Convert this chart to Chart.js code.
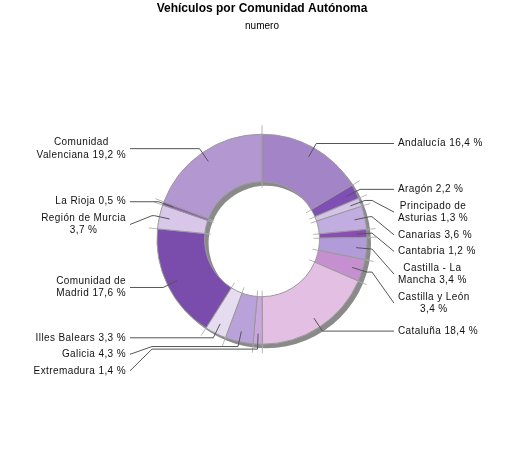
<!DOCTYPE html>
<html>
<head>
<meta charset="utf-8">
<script src="https://cdn.jsdelivr.net/npm/chart.js@4.4.1/dist/chart.umd.min.js"></script>
<style>
  html, body { margin: 0; padding: 0; background: #fff; }
  canvas { display: block; }
</style>
</head>
<body>
<canvas id="chart" width="525" height="450"></canvas>
<script>
// Datos: porcentaje de vehículos por comunidad (orden horario desde arriba)
const comunidades = [
    'Andalucía', 'Aragón', 'Principado de Asturias', 'Canarias', 'Cantabria',
    'Castilla - La Mancha', 'Castilla y León', 'Cataluña', 'Extremadura', 'Galicia',
    'Illes Balears', 'Comunidad de Madrid', 'Región de Murcia', 'La Rioja', 'Comunidad Valenciana'
];
const porcentajes = [16.4, 2.2, 1.3, 3.6, 1.2, 3.4, 3.4, 18.4, 1.4, 4.3, 3.3, 17.6, 3.7, 0.5, 19.2];
const colores = [
    '#a385c7', '#7f4fb5', '#d3c3e6', '#c2ade0', '#8a4db5',
    '#b19bd8', '#c690d0', '#e3bfe3', '#c9a7dd', '#b9a1d9',
    '#e6dcf0', '#7a4cab', '#d8c7e8', '#8e5cb9', '#b397d0'
];

const FONT = '"Liberation Sans", Arial, sans-serif';

function formatoValor(v) {
    return v.toFixed(1).replace('.', ',') + ' %';
}

// Partir la etiqueta en líneas (el valor va siempre junto)
function partir(ctx, nombre, valor, maxAncho) {
    const palabras = nombre.split(' ').concat([formatoValor(valor)]);
    const lineas = [];
    let actual = '';
    palabras.forEach(p => {
        const prueba = actual ? actual + ' ' + p : p;
        if (actual && ctx.measureText(prueba).width > maxAncho) {
            lineas.push(actual);
            actual = p;
        } else {
            actual = prueba;
        }
    });
    if (actual) lineas.push(actual);
    return lineas;
}

// Sombra gris desplazada y guías radiales
const sombra = {
    id: 'sombra',
    beforeDatasetsDraw(chart) {
        const arcs = chart.getDatasetMeta(0).data;
        if (!arcs.length) return;
        const { x, y, innerRadius, outerRadius } = arcs[0];
        const ctx = chart.ctx;
        ctx.save();
        ctx.fillStyle = '#8a8a8a';
        ctx.beginPath();
        ctx.arc(x + 4, y + 4, outerRadius, 0, Math.PI * 2);
        ctx.arc(x + 4, y + 4, innerRadius, 0, Math.PI * 2, true);
        ctx.fill();
        ctx.strokeStyle = 'rgba(175,175,175,0.9)';
        ctx.lineWidth = 1;
        arcs.forEach(a => {
            const c = Math.cos(a.startAngle), s = Math.sin(a.startAngle);
            ctx.beginPath();
            ctx.moveTo(x + c * (innerRadius - 6), y + s * (innerRadius - 6));
            ctx.lineTo(x + c * (outerRadius + 9), y + s * (outerRadius + 9));
            ctx.stroke();
        });
        ctx.restore();
    }
};

// Etiquetas con líneas guía
const etiquetas = {
    id: 'etiquetas',
    afterDatasetsDraw(chart) {
        const ctx = chart.ctx;
        const arcs = chart.getDatasetMeta(0).data;
        const altoLinea = 12.5;
        const hueco = 4;
        ctx.save();
        ctx.font = '10px ' + FONT;
        ctx.letterSpacing = '0.4px';
        const items = arcs.map((a, i) => {
            const mid = (a.startAngle + a.endAngle) / 2;
            const c = Math.cos(mid), s = Math.sin(mid);
            const R = a.outerRadius;
            const lineas = partir(ctx, comunidades[i], porcentajes[i], 97);
            return {
                lineas,
                h: lineas.length * altoLinea,
                derecha: c >= 0,
                ax: a.x + c * R * 0.9, ay: a.y + s * R * 0.9,
                ex: a.x + c * (R + 5), ey: a.y + s * (R + 5),
                cx: a.x, R
            };
        });

        [true, false].forEach(lado => {
            const grupo = items.filter(it => it.derecha === lado).sort((p, q) => p.ey - q.ey);
            let fondo = -Infinity;
            grupo.forEach(it => {
                it.y = Math.max(it.ey, fondo + hueco + it.h / 2);
                fondo = it.y + it.h / 2;
            });
        });

        ctx.strokeStyle = '#555';
        ctx.lineWidth = 1;
        ctx.fillStyle = '#111';
        ctx.textBaseline = 'middle';
        ctx.textAlign = 'center';
        items.forEach(it => {
            const sg = it.derecha ? 1 : -1;
            const colX = it.cx + sg * (it.R + 5);
            const finX = it.cx + sg * (it.R + 27);
            ctx.beginPath();
            ctx.moveTo(it.ax, it.ay);
            ctx.lineTo(it.ex, it.ey);
            ctx.lineTo(colX, it.ey);
            ctx.lineTo(finX, it.y);
            ctx.stroke();

            const ancho = Math.max(...it.lineas.map(l => ctx.measureText(l).width));
            const textoX = it.cx + sg * (it.R + 31);
            const centroX = it.derecha ? textoX + ancho / 2 : textoX - ancho / 2;
            const y0 = it.y - it.h / 2 + altoLinea / 2;
            it.lineas.forEach((l, k) => ctx.fillText(l, centroX, y0 + k * altoLinea));
        });
        ctx.restore();
    }
};

const ctx = document.getElementById('chart').getContext('2d');
new Chart(ctx, {
    type: 'doughnut',
    data: {
        labels: comunidades,
        datasets: [{
            data: porcentajes,
            backgroundColor: colores,
            borderColor: '#9a9a9a',
            borderWidth: 1,
            radius: 105,
            cutout: 61
        }]
    },
    options: {
        responsive: false,
        animation: false,
        devicePixelRatio: 1,
        layout: {
            padding: { left: 150, right: 151, top: 0, bottom: 56 }
        },
        plugins: {
            legend: { display: false },
            tooltip: { enabled: false },
            title: {
                display: true,
                text: 'Vehículos por Comunidad Autónoma',
                color: '#000',
                font: { family: FONT, size: 12, weight: 'bold' },
                padding: { top: 1, bottom: 2 }
            },
            subtitle: {
                display: true,
                text: 'numero',
                color: '#000',
                font: { family: FONT, size: 10 },
                padding: { top: 3, bottom: 52 }
            }
        }
    },
    plugins: [sombra, etiquetas]
});
</script>
</body>
</html>
